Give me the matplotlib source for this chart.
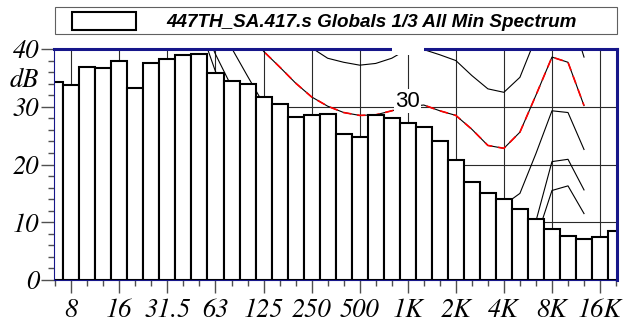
import matplotlib
matplotlib.use("Agg")
import matplotlib.pyplot as plt
import numpy as np
from matplotlib.ticker import FixedLocator
from matplotlib.patches import Rectangle
from matplotlib.transforms import Bbox, TransformedBbox
from matplotlib.font_manager import FontProperties

# ---------------- data ----------------
bands = ["6.3", "8", "10", "12.5", "16", "20", "25", "31.5", "40", "50", "63", "80",
         "100", "125", "160", "200", "250", "315", "400", "500", "630", "800", "1K",
         "1.25K", "1.6K", "2K", "2.5K", "3.15K", "4K", "5K", "6.3K", "8K", "10K",
         "12.5K", "16K", "20K"]
spectrum_db = [34.2, 33.7, 36.9, 36.7, 37.9, 33.2, 37.6, 38.3, 38.9, 39.2, 35.8, 34.5,
               34.0, 31.7, 30.5, 28.2, 28.5, 28.8, 25.3, 24.8, 28.6, 28.0, 27.2,
               26.5, 24.0, 20.8, 17.0, 15.1, 14.0, 12.3, 10.5, 8.8, 7.6,
               7.1, 7.4, 8.4]
tick_bands = ["8", "16", "31.5", "63", "125", "250", "500", "1K", "2K", "4K", "8K", "16K"]

contour_bands = ["25", "31.5", "40", "50", "63", "80", "100", "125", "160", "200", "250",
                 "315", "400", "500", "630", "800", "1K", "1.25K", "1.6K", "2K", "2.5K",
                 "3.15K", "4K", "5K", "6.3K", "8K", "10K", "12.5K"]
threshold = [69.0, 59.5, 51.1, 44.0, 36.1, 31.5, 26.5, 22.1, 17.9, 14.4, 11.4,
             8.6, 6.2, 4.4, 3.0, 2.2, 2.4, 3.5, 1.7, -1.3, -4.2,
             -6.0, -5.4, -1.5, 7.0, 15.5, 16.3, 11.5]
phon10 = [67.0, 59.0, 52.0, 45.5, 39.1, 33.5, 28.5, 24.5, 20.5, 17.5, 15.0,
          13.0, 11.5, 10.5, 10.0, 9.8, 10.0, 11.0, 9.5, 7.0, 4.5,
          3.0, 3.5, 6.0, 10.2, 20.5, 20.9, 15.6]
phon20 = [74.0, 65.0, 57.0, 50.0, 44.5, 40.2, 35.3, 30.5, 27.0, 24.5, 22.6,
          21.3, 20.2, 19.6, 19.4, 19.6, 20.0, 20.5, 19.0, 17.5, 15.3,
          13.3, 13.0, 15.0, 21.9, 29.3, 29.0, 22.6]
phon30 = [80.0, 71.0, 63.0, 56.0, 50.0, 46.0, 44.0, 39.6, 36.9, 34.1, 31.7,
          30.1, 29.0, 28.5, 28.6, 29.3, 30.0, 30.3, 29.3, 28.5, 26.1,
          23.3, 22.8, 25.6, 32.0, 38.6, 37.7, 30.2]
phon40 = [85.0, 77.0, 70.0, 64.0, 58.0, 53.0, 49.0, 46.0, 43.5, 41.5, 40.2,
          38.4, 37.7, 37.2, 37.5, 38.4, 40.0, 39.9, 39.0, 38.0, 35.4,
          33.1, 32.5, 35.1, 42.0, 48.5, 47.5, 38.6]
title = "447TH_SA.417.s Globals 1/3 All Min Spectrum"

# ---------------- figure ----------------
W, H = 629, 322
fig = plt.figure(figsize=(W / 100, H / 100), dpi=100)
ax = fig.add_axes([54.3 / W, 1 - 280 / H, (616.7 - 54.3) / W, (280 - 49) / H])

navy = "#16168a"
pos = np.arange(len(bands))
cpos = [bands.index(b) for b in contour_bands]

ax.set_xlim(-0.06, 35.04)
ax.set_ylim(0, 40)

# grid
ax.set_axisbelow(True)
ax.grid(True, which="major", color="#2a2a2a", lw=0.8)

# loudness contours
for curve in (threshold, phon10, phon20, phon40):
    ax.plot(cpos, curve, color="black", lw=0.8, zorder=1.5)
ax.plot(cpos, phon30, color="black", lw=0.8, zorder=1.5)
ax.plot(cpos, phon30, color="#ff0000", lw=1.2, dashes=(5, 3.5), zorder=1.6)

# contour labels
i1k = bands.index("1K")
ax.text(i1k, 30, "30", ha="center", va="baseline", fontsize=16,
        family="Liberation Sans", zorder=1.8,
        bbox=dict(facecolor="white", edgecolor="none", pad=1.0))
t40 = ax.text(i1k, 40.4, "40", ha="center", va="baseline", fontsize=16,
              family="Liberation Sans", zorder=3, clip_on=True,
              bbox=dict(facecolor="white", edgecolor="none", pad=2.5))
t40.set_clip_box(TransformedBbox(Bbox([[0, 0], [1, 1 + 1.8 / 231]]), ax.transAxes))

# bars
bars = ax.bar(pos, spectrum_db, width=1.0, color="white", edgecolor="black",
              linewidth=1.5, zorder=2)

# spines
for s in ("top", "right"):
    ax.spines[s].set_color(navy)
    ax.spines[s].set_linewidth(2.2)
for s in ("left", "bottom"):
    ax.spines[s].set_color(navy)
    ax.spines[s].set_linewidth(0.8)

# ticks
tick_font = FontProperties(family="STIXGeneral", style="italic", size=19)
ax.set_xticks([bands.index(b) for b in tick_bands])
ax.set_xticklabels(tick_bands, fontproperties=tick_font)
ax.xaxis.set_minor_locator(FixedLocator(pos))
ax.set_yticks([0, 10, 20, 30, 40])
ax.set_yticklabels(["0", "10", "20", "30", "40"], fontproperties=tick_font)
ax.yaxis.set_minor_locator(FixedLocator(np.arange(0, 41, 2)))
ax.tick_params(axis="both", which="major", length=9.5, width=1.0, color="#505050")
ax.tick_params(axis="both", which="minor", length=4.5, width=1.0, color="#505050")
ax.tick_params(axis="x", which="major", pad=3.5)
ax.tick_params(axis="y", which="major", pad=1.2)

ax.annotate("dB", xy=(0, 34.6), xycoords=("axes fraction", "data"),
            xytext=(-11, 0), textcoords="offset points", ha="right", va="center",
            fontproperties=tick_font)

# legend box
fig.add_artist(Rectangle((55 / W, 1 - 34 / H), (617 - 55) / W, 27 / H,
                         transform=fig.transFigure, fill=False,
                         edgecolor="#606060", lw=0.8))
leg_size = 13.6
leg_font = FontProperties(family="Liberation Sans", weight="bold", style="italic", size=leg_size)
fs_px = leg_size * 100 / 72
ax.legend([bars], [title], loc="center left", bbox_to_anchor=(72 / W, 1 - 21.5 / H),
          bbox_transform=fig.transFigure, frameon=False, borderpad=0,
          borderaxespad=0, handlelength=64 / fs_px, handleheight=20 / fs_px,
          handletextpad=30 / fs_px, prop=leg_font)

fig.savefig("out.png", dpi=100)
